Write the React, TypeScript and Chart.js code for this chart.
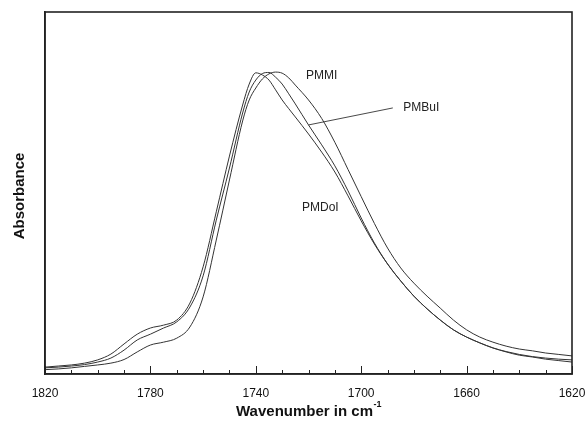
import React, { useEffect, useRef } from "react";
import { Chart, registerables } from "chart.js";

Chart.register(...registerables);

// Wavenumber grid (cm-1)
const wavenumbers = [1820, 1815, 1810, 1805, 1800, 1795, 1790, 1785, 1780, 1775, 1770, 1765, 1760, 1755, 1750, 1745, 1742.5, 1740, 1737.5, 1735, 1732.5, 1730, 1727.5, 1725, 1720, 1715, 1710, 1705, 1700, 1695, 1690, 1685, 1680, 1675, 1670, 1665, 1660, 1655, 1650, 1645, 1640, 1635, 1630, 1625, 1620];

const pmdoi = [0.019, 0.022, 0.025, 0.030, 0.039, 0.055, 0.083, 0.110, 0.127, 0.135, 0.149, 0.196, 0.296, 0.448, 0.602, 0.743, 0.801, 0.832, 0.826, 0.812, 0.785, 0.757, 0.733, 0.710, 0.663, 0.613, 0.558, 0.492, 0.423, 0.359, 0.304, 0.257, 0.215, 0.180, 0.149, 0.122, 0.102, 0.086, 0.072, 0.061, 0.052, 0.047, 0.041, 0.037, 0.033];
const pmbui = [0.017, 0.019, 0.022, 0.026, 0.033, 0.044, 0.066, 0.094, 0.110, 0.127, 0.144, 0.185, 0.271, 0.425, 0.569, 0.721, 0.779, 0.812, 0.830, 0.833, 0.820, 0.801, 0.774, 0.746, 0.688, 0.633, 0.575, 0.506, 0.431, 0.362, 0.304, 0.257, 0.215, 0.180, 0.149, 0.122, 0.102, 0.086, 0.072, 0.062, 0.054, 0.048, 0.044, 0.041, 0.039];
const pmmi = [0.012, 0.014, 0.017, 0.021, 0.025, 0.030, 0.040, 0.061, 0.080, 0.088, 0.099, 0.130, 0.213, 0.370, 0.536, 0.699, 0.757, 0.790, 0.815, 0.829, 0.834, 0.831, 0.818, 0.798, 0.757, 0.706, 0.640, 0.565, 0.490, 0.416, 0.348, 0.293, 0.251, 0.215, 0.182, 0.149, 0.122, 0.102, 0.088, 0.077, 0.069, 0.064, 0.058, 0.054, 0.050];

const seriesNames = ["PMDoI", "PMBuI", "PMMI"];
const xTitle = "Wavenumber in cm";
const xTitleSup = "-1";
const yTitle = "Absorbance";

// Annotation anchors in data units
const labelPMMI = { x: 1715, y: 0.823 };
const labelPMDoI = { x: 1715.5, y: 0.459 };
const labelPMBuI = { x: 1684, y: 0.735 };
const leaderPMBuIStart = { x: 1720, y: 0.688 };
const leaderPMBuIEnd = { x: 1688, y: 0.735 };

const FONT = '"Liberation Sans", Arial, Helvetica, sans-serif';
const INK = "#222";

const decorPlugin = {
  id: "decor",
  afterDraw(chart: any) {
    const { ctx, chartArea, scales } = chart;
    const xs = scales.x;
    const ys = scales.y;
    ctx.save();
    // frame
    ctx.strokeStyle = INK;
    ctx.lineWidth = 1.6;
    ctx.strokeRect(chartArea.left, chartArea.top, chartArea.right - chartArea.left, chartArea.bottom - chartArea.top);
    // inward ticks on bottom axis
    ctx.lineWidth = 1;
    xs.ticks.forEach((t: any) => {
      const px = Math.round(xs.getPixelForValue(t.value)) + 0.5;
      const major = (t.value - 1620) % 40 === 0;
      const len = major ? 8 : 4;
      ctx.beginPath();
      ctx.moveTo(px, chartArea.bottom);
      ctx.lineTo(px, chartArea.bottom - len);
      ctx.stroke();
    });
    // annotations
    ctx.fillStyle = INK;
    ctx.font = `12px ${FONT}`;
    ctx.textAlign = "center";
    ctx.textBaseline = "middle";
    ctx.fillText(seriesNames[2], xs.getPixelForValue(labelPMMI.x), ys.getPixelForValue(labelPMMI.y));
    ctx.fillText(seriesNames[0], xs.getPixelForValue(labelPMDoI.x), ys.getPixelForValue(labelPMDoI.y));
    ctx.textAlign = "left";
    ctx.fillText(seriesNames[1], xs.getPixelForValue(labelPMBuI.x), ys.getPixelForValue(labelPMBuI.y));
    ctx.lineWidth = 0.9;
    ctx.strokeStyle = "#333";
    ctx.beginPath();
    ctx.moveTo(xs.getPixelForValue(leaderPMBuIStart.x), ys.getPixelForValue(leaderPMBuIStart.y));
    ctx.lineTo(xs.getPixelForValue(leaderPMBuIEnd.x), ys.getPixelForValue(leaderPMBuIEnd.y));
    ctx.stroke();
    // axis titles
    ctx.fillStyle = "#111";
    ctx.font = `bold 15px ${FONT}`;
    const midX = (chartArea.left + chartArea.right) / 2;
    const mainW = ctx.measureText(xTitle).width;
    ctx.font = `bold 9px ${FONT}`;
    const supW = ctx.measureText(xTitleSup).width;
    const startX = midX - (mainW + supW) / 2;
    ctx.font = `bold 15px ${FONT}`;
    ctx.textAlign = "left";
    ctx.textBaseline = "alphabetic";
    ctx.fillText(xTitle, startX, 416);
    ctx.font = `bold 9px ${FONT}`;
    ctx.fillText(xTitleSup, startX + mainW + 0.5, 407);
    ctx.translate(24, (chartArea.top + chartArea.bottom) / 2 + 3);
    ctx.rotate(-Math.PI / 2);
    ctx.font = `bold 15px ${FONT}`;
    ctx.textAlign = "center";
    ctx.textBaseline = "alphabetic";
    ctx.fillText(yTitle, 0, 0);
    ctx.restore();
  },
};

export default function App() {
  const ref = useRef<HTMLCanvasElement>(null);
  useEffect(() => {
    if (!ref.current) return;
    const mk = (vals: number[]) => wavenumbers.map((w, i) => ({ x: w, y: vals[i] }));
    const ds = (label: string, vals: number[]) => ({
      label,
      data: mk(vals),
      borderColor: "#333",
      borderWidth: 1,
      pointRadius: 0,
      fill: false,
      cubicInterpolationMode: "monotone" as const,
    });
    const chart = new Chart(ref.current, {
      type: "line",
      data: {
        datasets: [ds(seriesNames[0], pmdoi), ds(seriesNames[1], pmbui), ds(seriesNames[2], pmmi)],
      },
      options: {
        animation: false,
        responsive: false,
        layout: { padding: { top: 12, right: 15, bottom: 0, left: 0 } },
        plugins: { legend: { display: false }, tooltip: { enabled: false } },
        scales: {
          x: {
            type: "linear",
            reverse: true,
            min: 1620,
            max: 1820,
            afterFit: (s: any) => { s.height = 47; s.paddingLeft = 0; s.paddingRight = 0; },
            grid: { display: false, drawTicks: false },
            border: { display: true, color: INK, width: 1.6 },
            ticks: {
              stepSize: 10,
              autoSkip: false,
              maxRotation: 0,
              padding: 12,
              color: "#111",
              font: { family: FONT, size: 12 },
              callback: (v: any) => ((Number(v) - 1620) % 40 === 0 ? String(v) : ""),
            },
          },
          y: {
            type: "linear",
            min: 0,
            max: 1,
            afterFit: (s: any) => { s.width = 45; s.paddingTop = 0; s.paddingBottom = 0; },
            grid: { display: false, drawTicks: false },
            border: { display: true, color: INK, width: 1.6 },
            ticks: { display: false },
          },
        },
      },
      plugins: [decorPlugin],
    });
    return () => chart.destroy();
  }, []);
  return (
    <div style={{ position: "fixed", left: 0, top: 0, width: 587, height: 421, background: "#fff" }}>
      <canvas ref={ref} width={587} height={421} style={{ display: "block" }} />
    </div>
  );
}
